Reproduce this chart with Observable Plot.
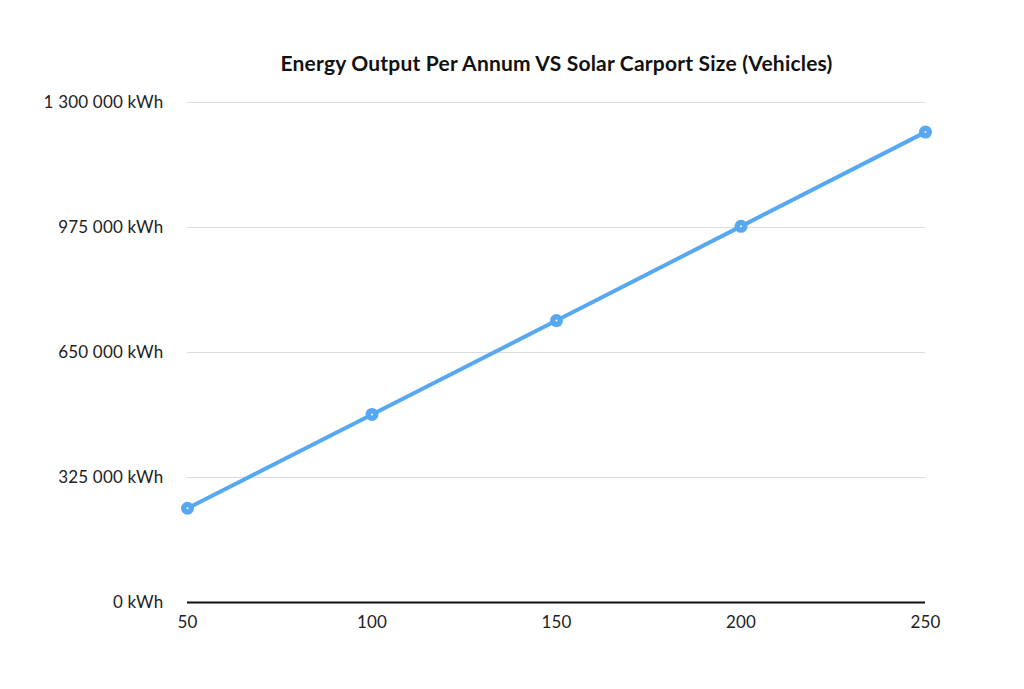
<!DOCTYPE html>
<html>
<head>
<meta charset="utf-8">
<script src="https://cdn.jsdelivr.net/npm/d3@7"></script>
<script src="https://cdn.jsdelivr.net/npm/@observablehq/plot@0.6"></script>
<style>
  html, body { margin: 0; padding: 0; background: #fff; }
  #chart svg { display: block; }
</style>
</head>
<body>
<div id="chart"></div>
<script>
const titleText = "Energy Output Per Annum VS Solar Carport Size (Vehicles)";
const vehicles = [50, 100, 150, 200, 250];
const energyKWh = [245000, 489000, 733000, 978000, 1223000];
const yTicks = [0, 325000, 650000, 975000, 1300000];
const xTicks = [50, 100, 150, 200, 250];

const data = vehicles.map((v, i) => ({ vehicles: v, energy: energyKWh[i] }));
const fmt = d => d3.format(",")(d).replace(/,/g, " ") + " kWh";
const blue = "#56a8f2";

const chart = Plot.plot({
  width: 1024,
  height: 689,
  marginLeft: 187,
  marginRight: 99,
  marginTop: 102,
  marginBottom: 87,
  style: { fontFamily: "Lato, 'Open Sans', sans-serif", fontSize: "17px", color: "#222", background: "#fff", letterSpacing: "0.2px" },
  x: { domain: [50, 250], ticks: xTicks, label: null },
  y: { domain: [0, 1300000], ticks: yTicks, label: null },
  marks: [
    Plot.gridY(yTicks.filter(d => d > 0), { stroke: "#dcdcdc", strokeOpacity: 1, strokeWidth: 1 }),
    Plot.axisY({ ticks: yTicks, tickSize: 0, tickPadding: 24, tickFormat: fmt, fontSize: 17, fill: "#222" }),
    Plot.axisX({ ticks: xTicks, tickSize: 0, tickPadding: 13, fontSize: 17, fill: "#222" }),
    Plot.ruleY([0], { stroke: "#111", strokeWidth: 2 }),
    Plot.line(data, { x: "vehicles", y: "energy", stroke: blue, strokeWidth: 4 }),
    Plot.dot(data, { x: "vehicles", y: "energy", r: 6.5, fill: blue, stroke: "none" }),
    Plot.dot(data, { x: "vehicles", y: "energy", r: 1, fill: "#fff", stroke: "none" }),
    Plot.text([titleText], { frameAnchor: "top", dy: -46, text: d => d, fontSize: 21, fontWeight: "bold", fill: "#111" })
  ]
});
document.getElementById("chart").appendChild(chart);
</script>
</body>
</html>
